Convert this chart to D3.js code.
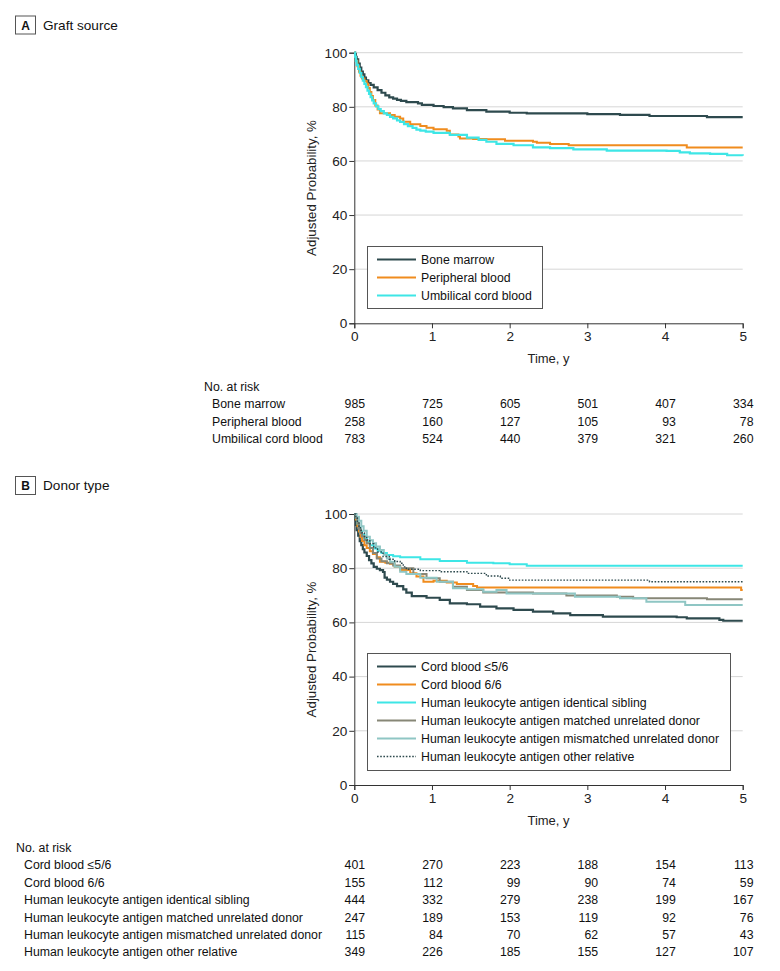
<!DOCTYPE html>
<html><head><meta charset="utf-8">
<script src="https://cdn.jsdelivr.net/npm/d3@7"></script>
<style>
body{margin:0;background:#fff;}
svg{display:block;font-family:"Liberation Sans",Arial,sans-serif;}
</style></head>
<body>
<svg id="chart" width="780" height="971"></svg>
<script>
// ---------------- DATA ----------------
const xTicks = [0, 1, 2, 3, 4, 5];
const yTicks = [0, 20, 40, 60, 80, 100];

// Panel A: Graft source
const graftNames = ["Bone marrow", "Peripheral blood", "Umbilical cord blood"];
const boneMarrowCurve = [[0,100],[0.01,99.5],[0.02,98.5],[0.03,97.5],[0.05,96],[0.07,94.5],[0.09,93],[0.11,92],[0.13,90.8],[0.15,89.8],[0.18,88.8],[0.21,88.1],[0.25,87.2],[0.3,86.2],[0.35,85.2],[0.4,84.2],[0.45,83.5],[0.5,83],[0.55,82.6],[0.6,82.2],[0.67,81.7],[0.82,81.3],[0.87,80.7],[1.02,80.3],[1.15,79.9],[1.27,79.4],[1.45,78.8],[1.7,78.2],[2.0,77.8],[2.22,77.6],[3.0,77.3],[3.42,77.0],[3.8,76.6],[4.54,76.2],[5,76.2]];
const peripheralCurve = [[0,100],[0.01,98.5],[0.02,97],[0.04,95],[0.06,93],[0.08,91.5],[0.1,90.5],[0.13,89.5],[0.16,88.5],[0.18,87],[0.2,85.5],[0.22,84],[0.24,82.5],[0.27,80.5],[0.3,79],[0.33,77.6],[0.46,77],[0.52,76.3],[0.59,75.7],[0.63,74.5],[0.72,73.6],[0.85,72.9],[0.93,72.3],[1.02,71.7],[1.19,71.2],[1.23,69.8],[1.34,69],[1.36,68.3],[1.53,68.1],[1.7,68],[1.94,67.5],[2.3,67.1],[2.35,66.7],[2.52,66.3],[2.76,65.8],[4.28,65.0],[5,65.0]];
const umbilicalCurve = [[0,100],[0.01,98.5],[0.02,97],[0.03,95.5],[0.05,94],[0.07,92.5],[0.09,91],[0.11,89.7],[0.13,88.5],[0.15,87.3],[0.17,86],[0.19,84.8],[0.21,83.6],[0.23,82.4],[0.25,81.3],[0.28,80.2],[0.31,79.2],[0.34,78.4],[0.38,77.6],[0.42,77],[0.46,76.3],[0.5,75.7],[0.55,75],[0.59,74.4],[0.64,73.6],[0.69,72.9],[0.75,72.2],[0.8,71.6],[0.85,71.2],[0.92,70.8],[1.02,70.4],[1.23,69.6],[1.45,68.6],[1.6,67.8],[1.7,67.1],[1.83,66.3],[2.05,65.8],[2.3,65],[2.52,64.7],[2.82,64.3],[3.25,63.8],[4.02,63.7],[4.19,63.2],[4.32,62.8],[4.58,62.6],[4.8,62.1],[5,61.9]];
const graftAtRisk = [[985,725,605,501,407,334],[258,160,127,105,93,78],[783,524,440,379,321,260]];

// Panel B: Donor type
const donorNames = ["Cord blood \u22645/6", "Cord blood 6/6", "Human leukocyte antigen identical sibling", "Human leukocyte antigen matched unrelated donor", "Human leukocyte antigen mismatched unrelated donor", "Human leukocyte antigen other relative"];
const cord56Curve = [[0,100],[0.01,98],[0.02,96],[0.03,94],[0.05,92],[0.07,90],[0.09,88.5],[0.11,87],[0.13,85.8],[0.16,84.5],[0.19,83],[0.22,81.8],[0.25,80.5],[0.29,79.8],[0.33,79.3],[0.37,78.6],[0.39,76.5],[0.42,75.8],[0.46,75],[0.5,74.2],[0.55,73.4],[0.63,72.2],[0.67,71],[0.74,69.7],[0.93,69.1],[1.1,68.3],[1.23,67],[1.45,66.7],[1.62,65.8],[1.83,65.2],[2.05,64.6],[2.3,64],[2.56,63.3],[2.78,62.7],[3.2,62.1],[4.15,61.9],[4.28,61.5],[4.7,60.9],[4.75,60.6],[5,60.6]];
const cord66Curve = [[0,100],[0.02,98],[0.04,95.5],[0.06,93.5],[0.08,91.5],[0.1,90],[0.13,88.5],[0.16,87.5],[0.2,86.3],[0.24,85.2],[0.29,84],[0.33,82.4],[0.4,82],[0.46,81.6],[0.52,80.5],[0.59,79.3],[0.72,78.1],[0.8,76.9],[0.89,75],[1.02,75.4],[1.19,74.7],[1.32,74.2],[1.53,73.4],[1.58,72.9],[4.98,72.0],[5,72.0]];
const siblingCurve = [[0,100],[0.02,98.5],[0.04,96.5],[0.06,95],[0.08,93.5],[0.1,92.3],[0.13,91],[0.16,89.8],[0.2,88.5],[0.25,87.3],[0.3,86.4],[0.35,85.6],[0.42,84.9],[0.5,84.4],[0.59,84],[0.85,83.3],[1.1,82.7],[1.45,82],[1.79,81.8],[2.0,81.5],[2.22,80.9],[5,80.9]];
const matchedCurve = [[0,100],[0.02,98.5],[0.04,96.5],[0.06,94.5],[0.08,93],[0.1,91.8],[0.13,90.4],[0.16,89.2],[0.2,87.5],[0.24,85.6],[0.29,83.6],[0.35,82.6],[0.42,81.8],[0.5,81],[0.59,80],[0.76,77.9],[0.93,76.3],[1.1,75],[1.27,73.2],[1.45,72],[1.66,71],[2.3,70.7],[2.73,69.9],[3.38,69.5],[3.59,68.9],[4.54,68.5],[5,68.5]];
const mismatchedCurve = [[0,100],[0.03,99],[0.06,97.5],[0.09,95.5],[0.12,93.8],[0.16,91.6],[0.2,90.3],[0.24,89.2],[0.28,88],[0.33,86.7],[0.38,85],[0.42,83.6],[0.46,82.4],[0.52,80.5],[0.59,78.7],[0.67,77.9],[0.85,76.5],[1.06,75],[1.27,72.6],[1.45,72.2],[1.66,71.3],[1.83,72],[1.96,70.7],[2.84,69.5],[3.42,68.9],[3.76,67.6],[4.26,66.4],[5,66.4]];
const otherCurve = [[0,100],[0.02,98.5],[0.04,97],[0.06,95.5],[0.08,94],[0.1,93],[0.13,91.7],[0.16,90.4],[0.2,89],[0.25,87.5],[0.3,86],[0.37,84.3],[0.45,83.3],[0.52,82.5],[0.59,81.8],[0.63,80.5],[0.67,79.6],[0.85,79.1],[1.1,78.7],[1.45,78.1],[1.7,77.1],[1.88,76.3],[2.0,75.6],[3.8,75],[5,75]];
const donorAtRisk = [[401,270,223,188,154,113],[155,112,99,90,74,59],[444,332,279,238,199,167],[247,189,153,119,92,76],[115,84,70,62,57,43],[349,226,185,155,127,107]];

// ---------------- STYLES ----------------
const graftStyles = [
  {color:"#2e4a4e", width:2.2, dash:null},
  {color:"#f08c1e", width:2.0, dash:null},
  {color:"#3ee6e6", width:2.2, dash:null}
];
const donorStyles = [
  {color:"#2e4a4e", width:2.2, dash:null},
  {color:"#f08c1e", width:2.0, dash:null},
  {color:"#3ee6e6", width:2.0, dash:null},
  {color:"#878777", width:2.0, dash:null},
  {color:"#8fc6c4", width:2.0, dash:null},
  {color:"#2e4a4e", width:1.4, dash:"1.6,1.6"}
];

const svg = d3.select("#chart");
const FS = 12.3;

function header(y, letter, title){
  svg.append("rect").attr("x",15.5).attr("y",y+0.5).attr("width",20).attr("height",18)
    .attr("fill","#fff").attr("stroke","#555").attr("stroke-width",1);
  svg.append("text").attr("x",25.5).attr("y",y+14).attr("text-anchor","middle")
    .attr("font-size",12).attr("font-weight","bold").attr("fill","#111").text(letter);
  svg.append("text").attr("x",43).attr("y",y+14).attr("font-size",13.6).attr("fill","#111").text(title);
}

function panel(opts){
  const x = d3.scaleLinear().domain([0,5]).range([354.3,742.7]);
  const y = d3.scaleLinear().domain([0,100]).range([opts.y0, opts.y1]);
  const g = svg.append("g");
  // grid
  g.selectAll(".grid").data(yTicks.filter(d=>d>0)).join("line")
    .attr("x1",x(0)).attr("x2",x(5)).attr("y1",d=>y(d)).attr("y2",d=>y(d))
    .attr("stroke","#d6d6d6").attr("stroke-width",1);
  // axes
  const ya = g.append("g").attr("transform",`translate(${x(0)},0)`)
    .call(d3.axisLeft(y).tickValues(yTicks).tickFormat(d3.format("d")).tickSize(5).tickPadding(2));
  const xa = g.append("g").attr("transform",`translate(0,${y(0)})`)
    .call(d3.axisBottom(x).tickValues(xTicks).tickFormat(d3.format("d")).tickSize(5).tickPadding(3));
  [ya,xa].forEach(a=>{
    a.select(".domain").attr("stroke","#333");
    a.selectAll(".tick line").attr("stroke","#333");
    a.selectAll("text").attr("font-size",13.6).attr("fill","#222").attr("font-family","Liberation Sans, Arial, sans-serif");
  });
  // axis titles
  g.append("text").attr("x",(x(0)+x(5))/2).attr("y",y(0)+40).attr("text-anchor","middle")
    .attr("font-size",13).attr("fill","#222").text("Time, y");
  g.append("text").attr("transform",`translate(316,${(y(0)+y(100))/2}) rotate(-90)`)
    .attr("text-anchor","middle").attr("font-size",13.3).attr("fill","#222").text("Adjusted Probability, %");
  // curves
  const line = d3.line().x(d=>x(d[0])).y(d=>y(d[1])).curve(d3.curveStepAfter);
  opts.curves.forEach((c,i)=>{
    const s = opts.styles[i];
    g.append("path").datum(c).attr("d",line).attr("fill","none")
      .attr("stroke",s.color).attr("stroke-width",s.width)
      .attr("stroke-dasharray",s.dash).attr("stroke-linejoin","miter");
  });
  // legend
  const L = opts.legend;
  g.append("rect").attr("x",L.x+0.5).attr("y",L.y+0.5).attr("width",L.w).attr("height",L.h)
    .attr("fill","#fff").attr("stroke","#555").attr("stroke-width",1);
  opts.names.forEach((n,i)=>{
    const s = opts.styles[i];
    const cy = L.y + 13.5 + i*18;
    g.append("line").attr("x1",377).attr("x2",416).attr("y1",cy).attr("y2",cy)
      .attr("stroke",s.color).attr("stroke-width",s.width).attr("stroke-dasharray",s.dash);
    g.append("text").attr("x",421).attr("y",cy+4.3).attr("font-size",FS).attr("fill","#111").text(n);
  });
  // risk table
  const T = opts.table;
  svg.append("text").attr("x",T.x0).attr("y",T.y0).attr("font-size",FS).attr("fill","#111").text("No. at risk");
  opts.names.forEach((n,i)=>{
    const by = T.y0 + 17.4*(i+1);
    svg.append("text").attr("x",T.x0+8).attr("y",by).attr("font-size",FS).attr("fill","#111").text(n);
    opts.risk[i].forEach((v,j)=>{
      svg.append("text").attr("x",x(xTicks[j])+10.8).attr("y",by).attr("text-anchor","end")
        .attr("font-size",FS).attr("fill","#111").text(v);
    });
  });
}

header(15.5, "A", "Graft source");
panel({
  y0:323.3, y1:52.7,
  curves:[boneMarrowCurve, peripheralCurve, umbilicalCurve],
  styles:graftStyles, names:graftNames, risk:graftAtRisk,
  legend:{x:367, y:246, w:175, h:62},
  table:{x0:204, y0:391}
});

header(476, "B", "Donor type");
panel({
  y0:785, y1:514,
  curves:[cord56Curve, cord66Curve, siblingCurve, matchedCurve, mismatchedCurve, otherCurve],
  styles:donorStyles, names:donorNames, risk:donorAtRisk,
  legend:{x:367, y:653, w:363, h:117},
  table:{x0:16, y0:852}
});
</script>
</body></html>
